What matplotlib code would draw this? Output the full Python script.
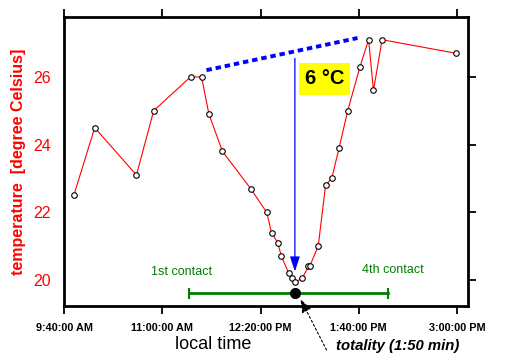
import matplotlib.pyplot as plt

plt.rcParams['font.family'] = ['Liberation Sans', 'DejaVu Sans']

# measurement times (local time, 24h) and temperatures
times = ["9:48", "10:05", "10:39", "10:53", "11:23", "11:32", "11:38", "11:49",
         "12:12", "12:25", "12:29", "12:34", "12:37", "12:43", "12:46", "12:48",
         "12:54", "12:59", "13:00", "13:07", "13:13", "13:18", "13:24", "13:31",
         "13:41", "13:48", "13:52", "13:59", "14:59"]
temps = [22.5, 24.5, 23.1, 25.0, 26.0, 26.0, 24.9, 23.8,
         22.7, 22.0, 21.4, 21.1, 20.7, 20.2, 20.05, 19.93,
         20.05, 20.4, 20.4, 21.0, 22.8, 23.0, 23.9, 25.0,
         26.3, 27.1, 25.6, 27.1, 26.7]

tick_times = ["9:40", "11:00", "12:20", "13:40", "15:00"]
tick_labels = ["9:40:00 AM", "11:00:00 AM", "12:20:00 PM", "1:40:00 PM", "3:00:00 PM"]
yticks = [20, 22, 24, 26]

# trend without eclipse (blue dotted) and drop arrow
trend_times = ["11:36", "13:39"]
trend_temps = [26.2, 27.15]
drop_time = "12:48"
drop_top, drop_bottom = 26.55, 20.25

# eclipse contacts and totality
contact_times = ["11:21:30", "14:04"]
contact_level = 19.6
totality_time = "12:48"


def minutes(s):
    parts = [int(p) for p in s.split(":")]
    while len(parts) < 3:
        parts.append(0)
    return parts[0] * 60 + parts[1] + parts[2] / 60


x = [minutes(t) for t in times]

fig = plt.figure(figsize=(5.06, 3.63), dpi=100)
ax = fig.add_axes([0.1265, 0.157, 0.7985, 0.797])

ax.plot(x, temps, color="red", lw=0.8, marker="o", ms=4, mfc="white",
        mec="black", mew=0.8, zorder=3)

# blue dashed trend
ax.plot([minutes(t) for t in trend_times], trend_temps, color="blue",
        lw=2.8, ls=(0, (1.4, 1.0)), zorder=2)

# blue drop arrow
xd = minutes(drop_time)
ax.annotate("", xy=(xd, drop_bottom), xytext=(xd, drop_top),
            arrowprops=dict(arrowstyle="-|>,head_length=0.9,head_width=0.3",
                            color="blue", lw=0.9, shrinkA=0, shrinkB=0),
            zorder=4)
ax.text(minutes("13:12"), 25.94, "6 °C", fontsize=14.5, fontweight="bold",
        ha="center", va="center", zorder=5,
        bbox=dict(boxstyle="square,pad=0.3", fc="#ffff00", ec="none"))

# contacts bar
cx = [minutes(t) for t in contact_times]
ax.plot(cx, [contact_level] * 2, color="#007f00", lw=2, zorder=3)
for c in cx:
    ax.plot([c, c], [contact_level - 0.13, contact_level + 0.13],
            color="#007f00", lw=1.5, zorder=3)
ax.text(minutes("11:16"), 20.24, "1st contact", color="#007f00", fontsize=9,
        ha="center", va="center")
ax.text(minutes("14:07:48"), 20.3, "4th contact", color="#007f00", fontsize=9,
        ha="center", va="center")

xt = minutes(totality_time)
ax.plot([xt], [contact_level], marker="o", ms=7, color="black", zorder=5)
ax.annotate("", xy=(minutes("12:52:36"), 19.43), xytext=(minutes("13:13:48"), 17.93),
            xycoords="data", textcoords="data", annotation_clip=False,
            arrowprops=dict(arrowstyle="-|>,head_length=0.8,head_width=0.3",
                            color="black", lw=0.8, ls=(0, (2, 2)),
                            shrinkA=0, shrinkB=0))
fig.text(0.785, 0.047, "totality (1:50 min)", fontsize=10.7, fontstyle="italic",
         fontweight="bold", ha="center", va="center")

ax.set_xlim(minutes("9:40"), minutes("15:09"))
ax.set_ylim(19.23, 27.78)
ax.set_xticks([minutes(t) for t in tick_times])
ax.set_xticklabels(tick_labels, fontsize=7.8, fontweight="bold")
ax.set_yticks(yticks)
ax.set_yticklabels([str(v) for v in yticks], color="red", fontsize=11.5)

ax.tick_params(axis="x", direction="out", length=6, width=1.3, top=True,
               bottom=True, pad=6)
ax.tick_params(axis="y", direction="out", length=6, width=1.3, left=False,
               right=True, labelleft=True, pad=3.7)
for s in ax.spines.values():
    s.set_linewidth(2)

ax.set_ylabel("temperature  [degree Celsius]", color="red", fontsize=11.5,
              fontweight="bold")
ax.yaxis.set_label_coords(-0.094, 0.498)
ax.set_xlabel("local time", fontsize=13)
ax.xaxis.set_label_coords(0.369, -0.103)

fig.savefig("out.png", dpi=100)
